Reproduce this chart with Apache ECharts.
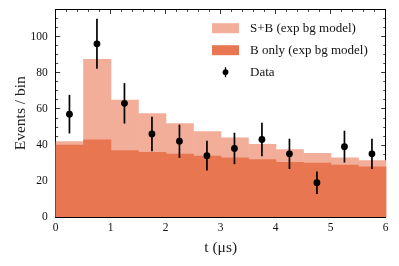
<!DOCTYPE html>
<html>
<head>
<meta charset="utf-8">
<script src="https://cdn.jsdelivr.net/npm/echarts@6/dist/echarts.min.js"></script>
<style>html,body{margin:0;padding:0;background:#fff}#c{width:399px;height:266px}</style>
</head>
<body>
<div id="c"></div>
<script>
const binEdges = [0, 0.5, 1, 1.5, 2, 2.5, 3, 3.5, 4, 4.5, 5, 5.5, 6];
const binCenters = [0.25, 0.75, 1.25, 1.75, 2.25, 2.75, 3.25, 3.75, 4.25, 4.75, 5.25, 5.75];
const sbValues = [42, 87.5, 65, 57.5, 52, 47.5, 44, 40.5, 37.5, 35.5, 33, 31.5];
const bValues = [40, 43, 37, 36, 35, 34, 33, 32, 30.5, 30, 29, 28];
const dataValues = [57, 96, 63, 46, 42, 34, 38, 43, 35, 19, 39, 35];
const dataErrors = [10.7, 13.9, 11.2, 9.6, 9.2, 8.2, 8.7, 9.3, 8.4, 6.2, 8.8, 8.4];
const xTicks = [0, 1, 2, 3, 4, 5, 6];
const yTicks = [0, 20, 40, 60, 80, 100];

const FONT = 'Liberation Serif';
const LIGHT = '#f2ae98';
const DARK = '#e87651';

const chart = echarts.init(document.getElementById('c'), null, {renderer: 'canvas'});

function histItem(values) {
  return function (params, api) {
    const i = api.value(0);
    const p1 = api.coord([binEdges[i], values[i]]);
    const p2 = api.coord([binEdges[i + 1], 0]);
    return {
      type: 'rect',
      shape: {x: p1[0], y: p1[1], width: p2[0] - p1[0] + 0.6, height: p2[1] - p1[1]},
      style: {fill: api.visual('color')}
    };
  };
}

const axisCommon = {
  min: 0,
  axisLine: {show: true, onZero: false, lineStyle: {color: '#000', width: 1}},
  axisTick: {show: true, inside: true, length: 4.5, lineStyle: {color: '#000', width: 0.8}},
  minorTick: {show: true, length: 2.5, lineStyle: {color: '#000', width: 0.7}},
  splitLine: {show: false},
  minorSplitLine: {show: false}
};

const option = {
  animation: false,
  backgroundColor: '#fff',
  grid: {left: 55.7, right: 13.3, top: 9.5, bottom: 49, containLabel: false, outerBoundsMode: 'none'},
  legend: {
    orient: 'vertical',
    left: 212,
    top: 21.7,
    padding: 0,
    itemWidth: 27,
    itemHeight: 10,
    itemGap: 9,
    textStyle: {fontFamily: FONT, fontSize: 13, color: '#111', padding: [0, 0, 0, 6]},
    data: [
      {name: 'S+B (exp bg model)', icon: 'rect', itemStyle: {color: LIGHT}},
      {name: 'B only (exp bg model)', icon: 'rect', itemStyle: {color: DARK}},
      {name: 'Data', icon: 'path://M0,0 L0.001,0 Z M27,11 L26.999,11 Z M12.8,0 L14.2,0 L14.2,2.3 A3.3,3.3 0 0 1 14.2,8.7 L14.2,11 L12.8,11 L12.8,8.7 A3.3,3.3 0 0 1 12.8,2.3 Z', itemStyle: {color: '#000'}}
    ]
  },
  xAxis: [
    Object.assign({}, axisCommon, {
      type: 'value', max: 6, interval: 1, position: 'bottom',
      minorTick: Object.assign({}, axisCommon.minorTick, {splitNumber: 5}),
      axisLabel: {fontFamily: FONT, fontSize: 11.5, color: '#111', margin: 5,
        customValues: xTicks},
      name: 't (\u03bcs)', nameLocation: 'middle', nameGap: 23,
      nameTextStyle: {fontFamily: FONT, fontSize: 15.5, color: '#222'}
    }),
    Object.assign({}, axisCommon, {
      type: 'value', max: 6, interval: 1, position: 'top',
      minorTick: Object.assign({}, axisCommon.minorTick, {splitNumber: 5}),
      axisLabel: {show: false}
    })
  ],
  yAxis: [
    Object.assign({}, axisCommon, {
      type: 'value', max: 115, interval: 20, position: 'left',
      minorTick: Object.assign({}, axisCommon.minorTick, {splitNumber: 4}),
      axisLabel: {fontFamily: FONT, fontSize: 11.5, color: '#111', margin: 8,
        customValues: yTicks},
      name: 'Events / bin', nameLocation: 'middle', nameGap: 27, nameMoveOverlap: false,
      nameTextStyle: {fontFamily: FONT, fontSize: 15.5, color: '#222'}
    }),
    Object.assign({}, axisCommon, {
      type: 'value', max: 115, interval: 20, position: 'right',
      minorTick: Object.assign({}, axisCommon.minorTick, {splitNumber: 4}),
      axisLabel: {show: false}
    })
  ],
  series: [
    {
      name: 'S+B (exp bg model)', type: 'custom', xAxisIndex: 0, yAxisIndex: 0,
      itemStyle: {color: LIGHT},
      renderItem: histItem(sbValues),
      data: sbValues.map((v, i) => [i, v]),
      encode: {x: -1, y: 1}, z: 1
    },
    {
      name: 'B only (exp bg model)', type: 'custom', xAxisIndex: 0, yAxisIndex: 0,
      itemStyle: {color: DARK},
      renderItem: histItem(bValues),
      data: bValues.map((v, i) => [i, v]),
      encode: {x: -1, y: 1}, z: 2
    },
    {
      name: 'Data', type: 'custom', xAxisIndex: 0, yAxisIndex: 0,
      itemStyle: {color: '#000'},
      renderItem: function (params, api) {
        const x = api.value(0), y = api.value(1), e = api.value(2);
        const top = api.coord([x, y + e]);
        const bot = api.coord([x, y - e]);
        const c = api.coord([x, y]);
        return {
          type: 'group',
          children: [
            {type: 'line', shape: {x1: top[0], y1: top[1], x2: bot[0], y2: bot[1]},
              style: {stroke: '#000', lineWidth: 1.7}},
            {type: 'circle', shape: {cx: c[0], cy: c[1], r: 3.4}, style: {fill: '#000'}}
          ]
        };
      },
      data: binCenters.map((x, i) => [x, dataValues[i], dataErrors[i]]),
      encode: {x: 0, y: 1}, z: 5
    }
  ]
};
chart.setOption(option);
</script>
</body>
</html>
